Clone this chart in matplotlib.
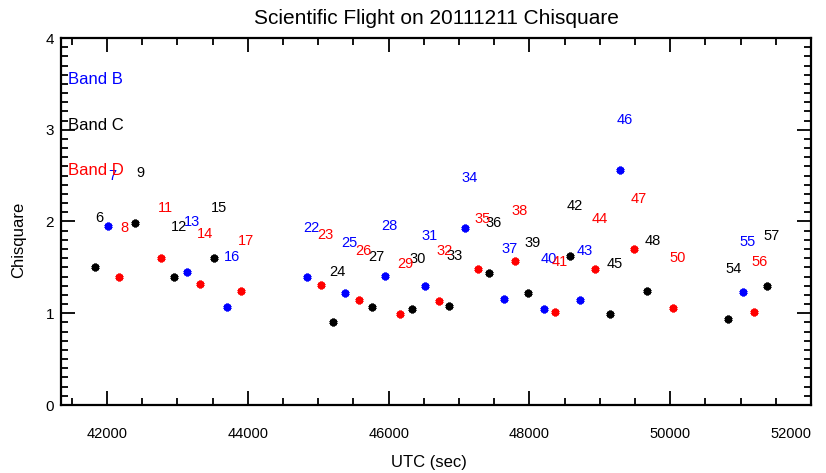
import matplotlib
matplotlib.use('Agg')
import matplotlib.pyplot as plt
from matplotlib.ticker import MultipleLocator

plt.rcParams['font.family'] = ['Liberation Sans', 'DejaVu Sans']

# Band B (blue)
b_num = [7, 13, 16, 22, 25, 28, 31, 34, 37, 40, 43, 46, 55]
b_utc = [42010, 43136, 43700, 44836, 45375, 45943, 46511, 47084, 47642, 48206, 48712, 49285, 51031]
b_chi = [1.95, 1.45, 1.07, 1.39, 1.22, 1.41, 1.30, 1.93, 1.16, 1.05, 1.14, 2.56, 1.23]

# Band C (black)
c_num = [6, 9, 12, 15, 24, 27, 30, 33, 36, 39, 42, 45, 48, 54, 57]
c_utc = [41824, 42398, 42951, 43515, 45205, 45759, 46335, 46861, 47420, 47979, 48579, 49143, 49677, 50823, 51368]
c_chi = [1.50, 1.98, 1.40, 1.60, 0.91, 1.07, 1.05, 1.08, 1.44, 1.22, 1.62, 0.99, 1.24, 0.94, 1.30]

# Band D (red)
d_num = [8, 11, 14, 17, 23, 26, 29, 32, 35, 38, 41, 44, 47, 50, 56]
d_utc = [42175, 42763, 43325, 43903, 45035, 45574, 46165, 46719, 47268, 47789, 48362, 48925, 49483, 50041, 51197]
d_chi = [1.39, 1.60, 1.32, 1.24, 1.31, 1.14, 0.99, 1.13, 1.48, 1.57, 1.01, 1.48, 1.70, 1.06, 1.01]

bands = [('Band B', 'blue', b_num, b_utc, b_chi, 3.55),
         ('Band C', 'black', c_num, c_utc, c_chi, 3.05),
         ('Band D', 'red', d_num, d_utc, d_chi, 2.56)]

fig = plt.figure(figsize=(8.26, 4.73), dpi=100)
ax = fig.add_axes([61/826, 68/473, 750/826, 367/473])

for name, col, num, utc, chi, ytxt in bands:
    ax.plot(utc, chi, linestyle='none', marker=(6, 2, 0), ms=5.5, mew=2.2,
            color=col)
    for n, x, y in zip(num, utc, chi):
        ax.text(x + 70, y + 0.5, str(n), color=col, fontsize=10.5,
                ha='center', va='baseline')
    ax.text(41450, ytxt, name, color=col, fontsize=12, ha='left', va='center')

ax.set_xlim(41345, 52000)
ax.set_ylim(0, 4)
ax.xaxis.set_major_locator(MultipleLocator(2000))
ax.xaxis.set_minor_locator(MultipleLocator(500))
ax.yaxis.set_major_locator(MultipleLocator(1))
ax.yaxis.set_minor_locator(MultipleLocator(0.1))
ax.tick_params(which='both', direction='in', top=True, right=True, width=1.3)
ax.tick_params(which='major', length=10)
ax.tick_params(which='minor', length=5)
ax.tick_params(axis='x', which='major', pad=16, labelsize=10.5)
ax.tick_params(axis='y', which='major', pad=5, labelsize=11)
for sp in ax.spines.values():
    sp.set_linewidth(1.6)

ax.set_title('Scientific Flight on 20111211 Chisquare', fontsize=15, pad=10)
ax.set_xlabel('UTC (sec)', fontsize=12)
ax.set_ylabel('Chisquare', fontsize=12)
ax.xaxis.set_label_coords(0.49, -0.135)
ax.yaxis.set_label_coords(-0.047, 0.45)

# keep the last x tick label inside the canvas
fig.canvas.draw()
for t in ax.xaxis.get_major_ticks():
    if abs(t.get_loc() - 52000) < 1:
        t.label1.set_horizontalalignment('right')
        t.label1.set_x(t.get_loc())

fig.savefig('out.png', dpi=100)
